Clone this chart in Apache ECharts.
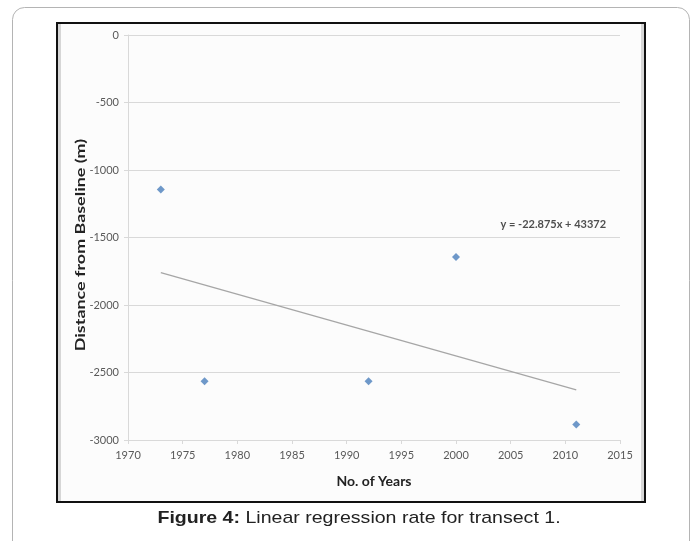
<!DOCTYPE html>
<html>
<head>
<meta charset="utf-8">
<script src="https://cdn.jsdelivr.net/npm/echarts@6/dist/echarts.min.js"></script>
<style>
  html, body { margin: 0; padding: 0; background: #ffffff; }
  #chart { width: 697px; height: 541px; }
</style>
</head>
<body>
<div id="chart"></div>
<script>
// Shoreline position of transect 1 by survey year
const years = [1973, 1977, 1992, 2000, 2011];
const distances = [-1145, -2565, -2565, -1645, -2885];

// Fitted linear trend (coefficients as printed on the chart)
const trendSlope = -22.875;
const trendIntercept = 43372;
const trendLabel = 'y = -22.875x + 43372';
const trendLabelAt = [2008.9, -1407];

// Axis ranges and titles
const xMin = 1970, xMax = 2015, xStep = 5;
const yMin = -3000, yMax = 0, yStep = 500;
const xTitle = 'No. of Years';
const yTitle = 'Distance from Baseline (m)';
const captionBold = 'Figure 4:';
const captionRest = ' Linear regression rate for transect 1.';

const points = years.map((yr, i) => [yr, distances[i]]);
const firstYear = years[0], lastYear = years[years.length - 1];
const trendLine = [firstYear, lastYear].map(yr => [yr, trendSlope * yr + trendIntercept]);

const tickFont = 'Lato, "Open Sans", sans-serif';
const captionFont = '"Liberation Sans", Arial, sans-serif';

const chart = echarts.init(document.getElementById('chart'), null, { renderer: 'canvas' });
chart.setOption({
  backgroundColor: '#ffffff',
  animation: false,
  graphic: [
    // outer rounded card
    { type: 'rect', z: -10, shape: { x: 12.5, y: 7.5, width: 677, height: 560, r: 12 },
      style: { fill: '#ffffff', stroke: '#b4b4b4', lineWidth: 1 } },
    // framed chart panel
    { type: 'rect', z: -9, shape: { x: 57, y: 23, width: 588, height: 479 },
      style: { fill: '#fcfcfc', stroke: '#111111', lineWidth: 2 } },
    { type: 'rect', z: -8, shape: { x: 58, y: 24, width: 3, height: 477 },
      style: { fill: '#d6d6d6' } },
    { type: 'rect', z: -8, shape: { x: 641, y: 24, width: 3, height: 477 },
      style: { fill: '#d6d6d6' } },
    // vertical axis title
    { type: 'text', x: 80, y: 245, rotation: Math.PI / 2, scaleX: 1.28,
      style: { text: yTitle, fontFamily: tickFont, fontSize: 14, fontWeight: 'bold',
               fill: '#222', align: 'center', verticalAlign: 'middle' } },
    // caption
    { type: 'text', x: 359, y: 518, scaleX: 1.15,
      style: {
        text: '{b|' + captionBold + '}{r|' + captionRest + '}',
        align: 'center', verticalAlign: 'middle',
        rich: {
          b: { fontFamily: captionFont, fontSize: 17, fontWeight: 'bold', fill: '#222' },
          r: { fontFamily: captionFont, fontSize: 17, fill: '#222' }
        }
      } }
  ],
  grid: { left: 128, right: 77, top: 35, bottom: 101, containLabel: false },
  xAxis: {
    type: 'value', min: xMin, max: xMax, interval: xStep,
    name: xTitle, nameLocation: 'middle', nameGap: 34,
    nameTextStyle: { fontFamily: tickFont, fontSize: 14, fontWeight: 'bold', color: '#222' },
    axisLine: { show: true, onZero: false, lineStyle: { color: '#d9d9d9', width: 1 } },
    axisTick: { show: true, length: 4, lineStyle: { color: '#d9d9d9' } },
    axisLabel: { fontFamily: tickFont, fontSize: 11, color: '#595959', margin: 10,
                 formatter: v => String(v) },
    splitLine: { show: false }
  },
  yAxis: {
    type: 'value', min: yMin, max: yMax, interval: yStep,
    axisLine: { show: true, onZero: false, lineStyle: { color: '#d9d9d9', width: 1 } },
    axisTick: { show: true, length: 4, lineStyle: { color: '#d9d9d9' } },
    axisLabel: { fontFamily: tickFont, fontSize: 11, color: '#595959', margin: 9,
                 formatter: v => String(v) },
    splitLine: { show: true, lineStyle: { color: '#d9d9d9', width: 1 } }
  },
  series: [
    {
      type: 'line', data: trendLine, symbol: 'none', silent: true,
      lineStyle: { color: '#a6a6a6', width: 1.3 }
    },
    {
      type: 'scatter', data: [trendLabelAt], symbolSize: 0, silent: true,
      label: { show: true, position: 'inside', formatter: trendLabel, fontFamily: tickFont,
               fontSize: 11, fontWeight: 'bold', color: '#222' }
    },
    {
      type: 'scatter', data: points, symbol: 'diamond', symbolSize: 8,
      itemStyle: { color: '#4a7ebb' }
    }
  ]
});
</script>
</body>
</html>
